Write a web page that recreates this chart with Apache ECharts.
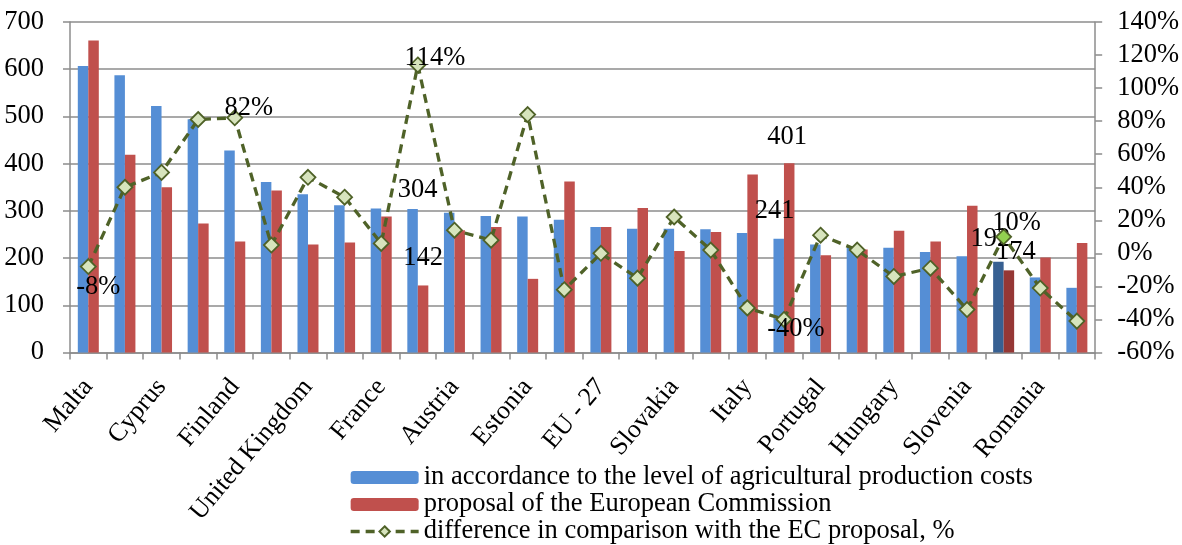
<!DOCTYPE html>
<html>
<head>
<meta charset="utf-8">
<script src="https://cdn.jsdelivr.net/npm/echarts@6/dist/echarts.min.js"></script>
<style>
html,body{margin:0;padding:0;background:#fff;}
#chart{width:1182px;height:545px;}
</style>
</head>
<body>
<div id="chart"></div>
<script>
const categories = ["Malta","Netherlands","Cyprus","Denmark","Finland","Belgium","United Kingdom","Ireland","France","Sweden","Austria","Luxembourg","Estonia","Greece","EU - 27","Germany","Slovakia","Czech Republic","Italy","Spain","Portugal","Bulgaria","Hungary","Latvia","Slovenia","Lithuania","Romania","Poland"];
const costLevel = [607,587,522,494,428,361,335,312,305,304,296,289,288,281,266,262,262,261,253,241,229,223,222,213,204,192,159,137];
const ecProposal = [661,419,350,273,235,343,229,233,288,142,259,266,156,362,266,306,215,255,377,401,206,218,258,235,311,174,201,232];
const differencePct = [-8,40,49,81,82,5,46,34,6,114,14,8,84,-22,0,-15,22,2,-33,-40,11,2,-14,-9,-34,10,-21,-41];
const leftTicks = {min:0, max:700, interval:100};
const rightTicks = {min:-60, max:140, interval:20};
const seriesNames = ["in accordance to the level of agricultural production costs","proposal of the European Commission","difference in comparison with the EC proposal, %"];

const FONT = "Liberation Serif";
const FS = 26.5;
const highlightIdx = 25;

const blueLabels = {9:[5,0], 19:[-4,-9], 25:[-8,-4]};
const redLabels = {9:[0,-9], 19:[-2,-8], 25:[7,0]};
const lineLabels = {0:[10,20], 4:[14,-10], 9:[17,-7], 19:[12,10], 25:[13,-14]};

function barData(vals, labels, hiColor){
  return vals.map((v,i)=>{
    const d = {value:v};
    if (i===highlightIdx) d.itemStyle = {color:hiColor};
    if (labels[i]) d.label = {show:true, position:'top', offset:labels[i]};
    return d;
  });
}
const lineData = differencePct.map((v,i)=>{
  const d = {value:v};
  if (i===highlightIdx) d.itemStyle = {color:'#92D050'};
  if (lineLabels[i]) d.label = {show:true, position:'inside', offset:lineLabels[i], formatter:'{c}%'};
  return d;
});

const chart = echarts.init(document.getElementById('chart'), null, {renderer:'canvas'});
chart.setOption({
  animation:false,
  textStyle:{fontFamily:FONT},
  grid:{left:70, right:86, top:22, bottom:192.5, containLabel:false},
  legend:{
    orient:'vertical', left:349, top:464, height:90, padding:0, itemWidth:68, itemHeight:13, itemGap:0,
    textStyle:{fontFamily:FONT, fontSize:FS, color:'#000'},
    data:[
      {name:seriesNames[0]},
      {name:seriesNames[1]},
      {name:seriesNames[2], lineStyle:{width:3.3, type:[9,6], color:'#4F6228'}}
    ]
  },
  xAxis:{
    type:'category', data:categories, boundaryGap:true,
    axisLine:{lineStyle:{color:'#8c8c8c', width:1.5}},
    axisTick:{show:true, interval:0, length:7, lineStyle:{color:'#8c8c8c', width:1.5}},
    axisLabel:{interval:1, rotate:50, margin:30, fontFamily:FONT, fontSize:26, color:'#000'}
  },
  yAxis:[
    {type:'value', min:leftTicks.min, max:leftTicks.max, interval:leftTicks.interval,
     axisLine:{show:true, lineStyle:{color:'#8c8c8c', width:1.5}},
     axisTick:{show:true, length:7, lineStyle:{color:'#8c8c8c', width:1.5}},
     axisLabel:{margin:26, fontFamily:FONT, fontSize:FS, color:'#000'},
     splitLine:{show:true, lineStyle:{color:'#8c8c8c', width:1.5}}},
    {type:'value', min:rightTicks.min, max:rightTicks.max, interval:rightTicks.interval,
     axisLine:{show:true, lineStyle:{color:'#8c8c8c', width:1.5}},
     axisTick:{show:true, length:7, lineStyle:{color:'#8c8c8c', width:1.5}},
     axisLabel:{margin:22, fontFamily:FONT, fontSize:FS, color:'#000', formatter:'{value}%'},
     splitLine:{show:false}}
  ],
  series:[
    {name:seriesNames[0], type:'bar', data:barData(costLevel, blueLabels, '#376092'),
     barWidth:10.5, barGap:'0%', itemStyle:{color:'#558ED5'},
     label:{fontFamily:FONT, fontSize:FS, color:'#000'}},
    {name:seriesNames[1], type:'bar', data:barData(ecProposal, redLabels, '#953735'),
     barWidth:10.5, barGap:'0%', itemStyle:{color:'#C0504D'},
     label:{fontFamily:FONT, fontSize:FS, color:'#000'}},
    {name:seriesNames[2], type:'line', yAxisIndex:1, data:lineData,
     symbol:'diamond', symbolSize:15,
     lineStyle:{color:'#4F6228', width:3.3, type:[9,6]},
     itemStyle:{color:'#D7E4BD', borderColor:'#4F6228', borderWidth:1.8},
     label:{fontFamily:FONT, fontSize:FS, color:'#000'}, z:5}
  ]
});
</script>
</body>
</html>
